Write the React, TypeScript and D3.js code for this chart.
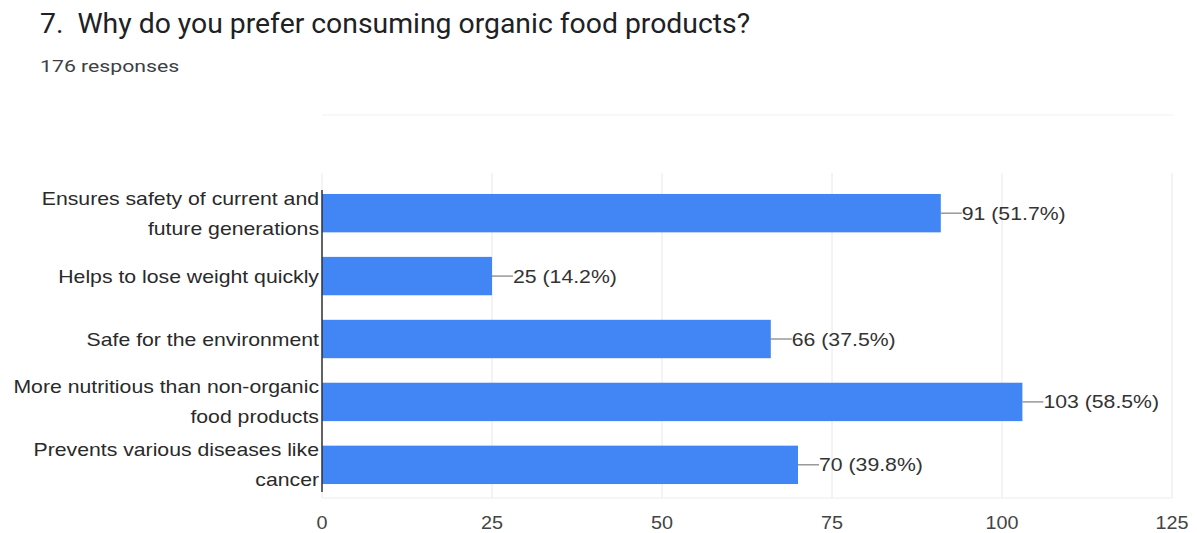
import React from "react";
import * as d3 from "d3";

const categories: string[][] = [
  ["Ensures safety of current and", "future generations"],
  ["Helps to lose weight quickly"],
  ["Safe for the environment"],
  ["More nutritious than non-organic", "food products"],
  ["Prevents various diseases like", "cancer"],
];
const counts = [91, 25, 66, 103, 70];
const percents = ["51.7%", "14.2%", "37.5%", "58.5%", "39.8%"];
const xTicks = [0, 25, 50, 75, 100, 125];
const title = "7.  Why do you prefer consuming organic food products?";
const subtitle = "176 responses";

const W = 1197;
const H = 533;
const FONT = "'Liberation Sans', Arial, sans-serif";
const TFONT = "Roboto, 'Liberation Sans', sans-serif";
const SX = 1.18;

function SText(props: {
  x: number;
  y: number;
  anchor?: "start" | "middle" | "end";
  size: number;
  fill: string;
  sx?: number;
  family?: string;
  children: React.ReactNode;
}) {
  const s = props.sx ?? SX;
  return (
    <text
      transform={`translate(${props.x},${props.y}) scale(${s},1)`}
      textAnchor={props.anchor ?? "start"}
      fontSize={props.size}
      fill={props.fill}
      fontFamily={props.family ?? FONT}
      style={{ whiteSpace: "pre" }}
    >
      {props.children}
    </text>
  );
}

export default function App() {
  const x = d3.scaleLinear().domain([0, 125]).range([322, 1172]);
  const y = d3
    .scaleBand<number>()
    .domain(d3.range(categories.length))
    .range([182, 496])
    .paddingInner(0.39)
    .paddingOuter(0.19);
  const gridTop = 173;
  const gridBottom = 498;

  return (
    <svg
      width={W}
      height={H}
      style={{ position: "absolute", left: 0, top: 0, background: "#fff" }}
      fontFamily={FONT}
    >
      <rect x={0} y={0} width={W} height={H} fill="#fff" />
      <SText x={40} y={33} size={27} fill="#202124" sx={1.05} family={TFONT}>
        {title}
      </SText>
      <SText x={40} y={72} size={17} fill="#3c4043" sx={1.25} family={TFONT}>
        {subtitle}
      </SText>
      <line x1={322} x2={1173} y1={115} y2={115} stroke="#f1f1f1" strokeWidth={1} />

      {xTicks.map((t) => (
        <g key={t}>
          <line
            x1={x(t)}
            x2={x(t)}
            y1={gridTop}
            y2={gridBottom}
            stroke="#e8e8e8"
            strokeWidth={1}
          />
          <SText x={x(t)} y={529} anchor="middle" size={18} fill="#444" sx={1.1}>
            {t}
          </SText>
        </g>
      ))}
      <line x1={322} x2={1172} y1={gridBottom} y2={gridBottom} stroke="#ececec" />

      {counts.map((v, i) => {
        const by = y(i)!;
        const bh = y.bandwidth();
        const cy = by + bh / 2;
        const lines = categories[i];
        const lh = 30;
        const startY = cy - ((lines.length - 1) * lh) / 2;
        return (
          <g key={i}>
            <rect x={x(0)} y={by} width={x(v) - x(0)} height={bh} fill="#4285f4" />
            <line
              x1={x(v)}
              x2={x(v) + 21}
              y1={cy}
              y2={cy}
              stroke="#666"
              strokeWidth={1}
            />
            <SText x={x(v) + 21} y={cy + 6.5} size={18} fill="#333">
              {`${v} (${percents[i]})`}
            </SText>
            {lines.map((l, k) => (
              <SText
                key={k}
                x={319}
                y={startY + k * lh + 6.5}
                anchor="end"
                size={18}
                fill="#2a2a2a"
              >
                {l}
              </SText>
            ))}
          </g>
        );
      })}
      <line x1={322} x2={322} y1={190} y2={492} stroke="#333" strokeWidth={1.5} />
    </svg>
  );
}
